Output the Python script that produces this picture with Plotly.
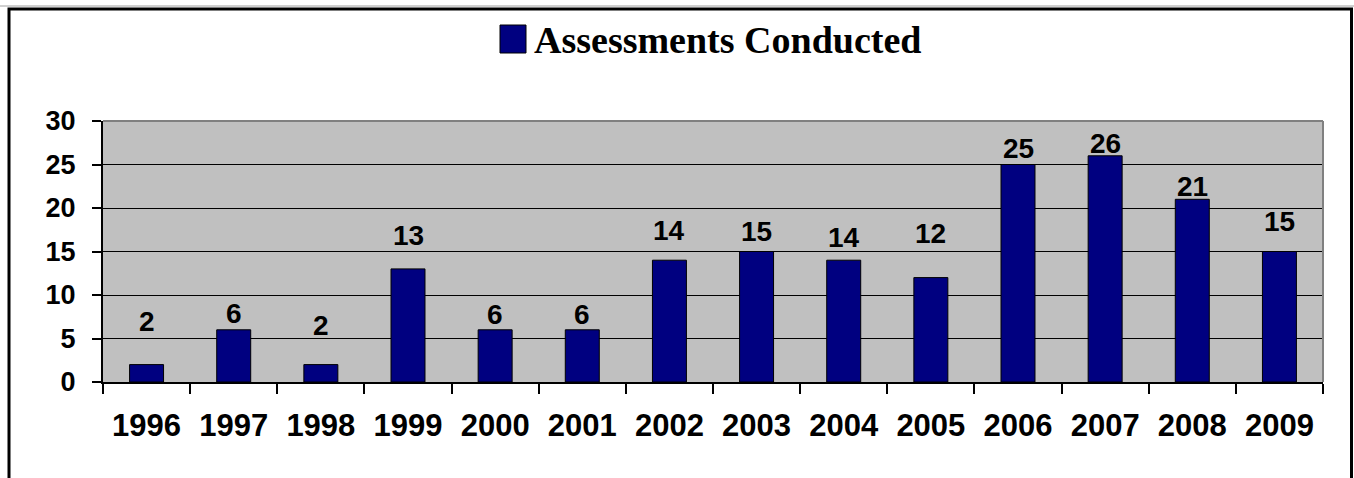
import plotly.graph_objects as go

years = ["1996", "1997", "1998", "1999", "2000", "2001", "2002",
         "2003", "2004", "2005", "2006", "2007", "2008", "2009"]
assessments = [2, 6, 2, 13, 6, 6, 14, 15, 14, 12, 25, 26, 21, 15]
series_name = "Assessments Conducted"
y_ticks = [0, 5, 10, 15, 20, 25, 30]
# data-label centres (in axis units) as placed in the original chart
label_y = [7.0, 7.9, 6.55, 16.8, 7.75, 7.75, 17.45, 17.25, 16.65, 17.1,
           26.85, 27.45, 22.5, 18.5]

W, H = 1354, 478
L, R, T, B = 103, 1323, 121, 382  # plot area in pixels


def px_x(px):
    return (px - L) / (R - L)


def px_y(py):
    return (B - py) / (B - T)


NAVY = "#000080"
SANS = "Liberation Sans, Arial, sans-serif"
SERIF = "Liberation Serif, Times New Roman, serif"

fig = go.Figure()
fig.add_trace(go.Bar(
    x=years, y=assessments, name=series_name,
    marker=dict(color=NAVY, line=dict(color="black", width=1)),
    showlegend=False,
))

# category axis: annotation x given as category index
for i, (v, ly) in enumerate(zip(assessments, label_y)):
    fig.add_annotation(x=i, y=ly, xref="x", yref="y", text=str(v), showarrow=False,
                       xanchor="center", yanchor="middle",
                       font=dict(family=SANS, size=28, color="black", weight="bold"))

fig.update_layout(
    width=W, height=H,
    margin=dict(l=L, r=W - R, t=T, b=H - B, pad=0, autoexpand=False),
    paper_bgcolor="white", plot_bgcolor="#C0C0C0",
    bargap=0.61,
    xaxis=dict(type="category", categoryorder="array", categoryarray=years,
               range=[-0.5, len(years) - 0.5], automargin=False,
               showgrid=False, ticks="outside", tickson="boundaries",
               ticklen=10, tickcolor="black", tickwidth=2, tickangle=0,
               showline=True, linecolor="black", linewidth=2,
               tickfont=dict(family=SANS, size=31, color="black", weight="bold"),
               ticklabelstandoff=15),
    yaxis=dict(range=[0, 30], tickvals=y_ticks, automargin=False,
               showgrid=True, gridcolor="black", gridwidth=1,
               ticks="outside", ticklen=9, tickcolor="black", tickwidth=2,
               showline=True, linecolor="black", linewidth=2, zeroline=False,
               tickfont=dict(family=SANS, size=27, color="black", weight="bold"),
               ticklabelstandoff=11),
    showlegend=False,
)

# gray plot border on top and right
fig.add_shape(type="line", xref="paper", yref="paper", x0=0, x1=1, y0=1, y1=1,
              line=dict(color="#808080", width=2))
fig.add_shape(type="line", xref="paper", yref="paper", x0=1, x1=1, y0=0, y1=1,
              line=dict(color="#808080", width=2))

# thin gray line above the outer border
fig.add_shape(type="line", xref="paper", yref="paper",
              x0=px_x(0), x1=px_x(W), y0=px_y(6), y1=px_y(6),
              line=dict(color="#A0A0A0", width=1))
# outer chart border
fig.add_shape(type="rect", xref="paper", yref="paper",
              x0=px_x(9), x1=px_x(1351.5), y0=px_y(9), y1=px_y(520),
              line=dict(color="black", width=3), fillcolor="rgba(0,0,0,0)", layer="above")

# legend box and label
fig.add_shape(type="rect", xref="paper", yref="paper",
              x0=px_x(500), x1=px_x(526), y0=px_y(53), y1=px_y(25),
              line=dict(color="black", width=1), fillcolor=NAVY)
fig.add_annotation(text=series_name, xref="paper", yref="paper",
                   x=px_x(532), y=px_y(40), xanchor="left", yanchor="middle",
                   showarrow=False,
                   font=dict(family=SERIF, size=38, color="black", weight="bold"))

fig.write_html("out.html",
               config={"displayModeBar": False, "staticPlot": True},
               post_script="document.body.style.margin='0';"
                           "document.body.style.overflow='hidden';")
